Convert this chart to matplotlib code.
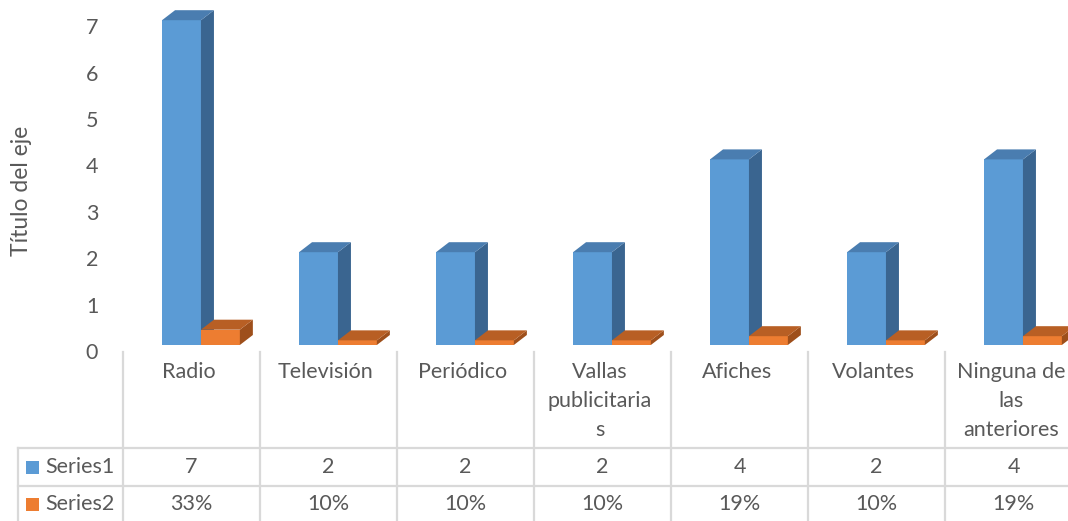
import matplotlib
matplotlib.use('Agg')
import matplotlib.pyplot as plt
import matplotlib.transforms as mtransforms
from matplotlib.patches import Rectangle, Polygon
from matplotlib.lines import Line2D

# --- Datos ---
categorias = ['Radio', 'Televisión', 'Periódico', 'Vallas\npublicitaria\ns',
              'Afiches', 'Volantes', 'Ninguna de\nlas\nanteriores']
series1 = [7, 2, 2, 2, 4, 2, 4]
series2 = [0.33, 0.10, 0.10, 0.10, 0.19, 0.10, 0.19]
nombres_series = ['Series1', 'Series2']
yticks = [0, 1, 2, 3, 4, 5, 6, 7]

# --- Estilo ---
plt.rcParams['font.family'] = ['Lato', 'DejaVu Sans']
gris_texto = '#595959'
gris_linea = '#D9D9D9'
azul = ('#5B9BD5', '#3A6590', '#4A7DB0')      # frente, lado, tapa
naranja = ('#ED7D31', '#9E4F1B', '#B85F24')
fs = 15.5

W, H = 1068, 521
fig = plt.figure(figsize=(W / 100, H / 100), dpi=100)

# eje del grafico (en pixeles de la figura)
px_unidad = 46.4
ancho_cat = 137
x_izq, y_base, y_sup = 123, 345, 5
ax = fig.add_axes([x_izq / W, (H - y_base) / H,
                   len(categorias) * ancho_cat / W, (y_base - y_sup) / H])
ax.set_xlim(-0.5, len(categorias) - 0.5)
ax.set_ylim(0, (y_base - y_sup) / px_unidad)
ax.axis('off')

# profundidad 3D en unidades de datos
dx = 13 / ancho_cat
dy = 10 / px_unidad
ancho_barra = 0.284
inicio = -0.215


def barra_3d(x0, w, h, colores):
    frente, lado, tapa = colores
    ax.add_patch(Rectangle((x0, 0), w, h, facecolor=frente, lw=0, clip_on=False))
    ax.add_patch(Polygon([(x0 + w, 0), (x0 + w + dx, dy), (x0 + w + dx, h + dy), (x0 + w, h)],
                         closed=True, facecolor=lado, lw=0, clip_on=False))
    ax.add_patch(Polygon([(x0, h), (x0 + dx, h + dy), (x0 + w + dx, h + dy), (x0 + w, h)],
                         closed=True, facecolor=tapa, lw=0, clip_on=False))


for i in range(len(categorias)):
    barra_3d(i + inicio, ancho_barra, series1[i], azul)
    barra_3d(i + inicio + ancho_barra, ancho_barra, series2[i], naranja)

# etiquetas del eje Y
trans_y = mtransforms.offset_copy(ax.get_yaxis_transform(), fig=fig, x=-31, y=-8, units='dots')
for v in yticks:
    ax.text(0, v, str(v), transform=trans_y, ha='center', va='center',
            fontsize=fs, color=gris_texto)

fig.text(22 / W, 1 - 191 / H, 'Título del eje', rotation=90, ha='center', va='center',
         fontsize=fs + 1, color=gris_texto)

# --- Tabla de datos ---
def fy(py):
    return 1 - py / H


mezcla = mtransforms.blended_transform_factory(ax.transData, fig.transFigure)
y_tabla, y_fila1, y_fila2 = 352, 448, 486

for i in range(len(categorias) + 1):
    fig.add_artist(Line2D([i - 0.5, i - 0.5], [fy(y_tabla), 0], transform=mezcla,
                          color=gris_linea, lw=1.6))
for yy in (y_fila1, y_fila2):
    fig.add_artist(Line2D([18 / W, 1], [fy(yy), fy(yy)], transform=fig.transFigure,
                          color=gris_linea, lw=1.6))
fig.add_artist(Line2D([18 / W, 18 / W], [fy(y_fila1), 0], transform=fig.transFigure,
                      color=gris_linea, lw=1.6))

for i, cat in enumerate(categorias):
    ax.text(i - 0.02, fy(362), cat, transform=mezcla, ha='center', va='top',
            fontsize=fs, color=gris_texto, linespacing=1.55)
    ax.text(i, fy(467), str(series1[i]), transform=mezcla, ha='center', va='center',
            fontsize=fs, color=gris_texto)
    ax.text(i, fy(504), f'{series2[i]:.0%}', transform=mezcla, ha='center', va='center',
            fontsize=fs, color=gris_texto)

for nombre, color, yc in zip(nombres_series, (azul[0], naranja[0]), (467, 504)):
    fig.add_artist(Rectangle((26 / W, fy(yc + 7)), 13 / W, 13 / H,
                             transform=fig.transFigure, facecolor=color, lw=0))
    fig.text(45 / W, fy(yc), nombre, ha='left', va='center', fontsize=fs, color=gris_texto)

fig.savefig('out.png', dpi=100)
